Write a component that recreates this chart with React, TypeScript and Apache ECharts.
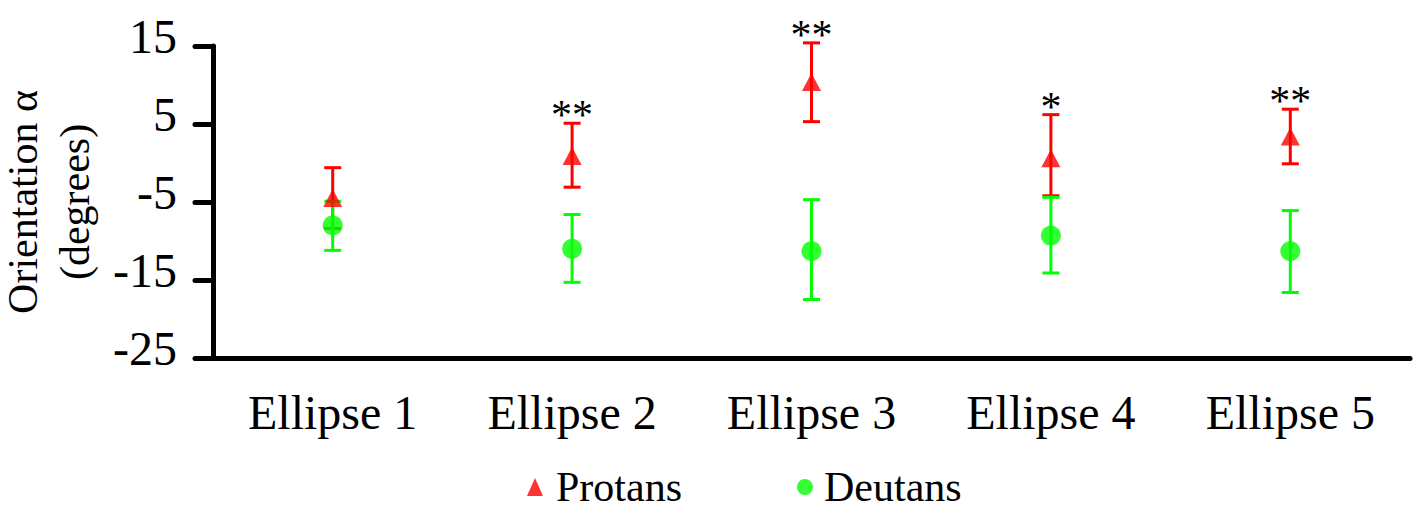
import React, { useEffect, useRef } from "react";
import * as echarts from "echarts";

const categories = ["Ellipse 1", "Ellipse 2", "Ellipse 3", "Ellipse 4", "Ellipse 5"];
const protansMean = [-4.5, 0.9, 10.4, 0.6, 3.4];
const protansLow = [-8.4, -3.1, 5.3, -4.2, -0.1];
const protansHigh = [-0.6, 5.1, 15.4, 6.2, 6.9];
const deutansMean = [-8.0, -11.0, -11.3, -9.3, -11.3];
const deutansLow = [-11.2, -15.3, -17.5, -14.1, -16.6];
const deutansHigh = [-4.9, -6.6, -4.7, -4.4, -6.1];
const significance = ["", "**", "**", "*", "**"];
const yTickLabels = [-25, -15, -5, 5, 15];
const yMin = -25;
const yMax = 15;
const yStep = 10;

const FONT = "Liberation Serif";
const RED = "#ff0000";
const GREEN = "#00ff00";

function errorRenderer(color: string, stars: string[] | null) {
  return (params: any, api: any) => {
    const idx = api.value(0);
    const lo = api.coord([idx, api.value(1)]);
    const hi = api.coord([idx, api.value(2)]);
    const x = lo[0];
    const half = 8.5;
    const style = { stroke: color, lineWidth: 3 };
    const children: any[] = [
      { type: "line", shape: { x1: x, y1: hi[1], x2: x, y2: lo[1] }, style },
      { type: "line", shape: { x1: x - half, y1: hi[1], x2: x + half, y2: hi[1] }, style },
      { type: "line", shape: { x1: x - half, y1: lo[1], x2: x + half, y2: lo[1] }, style },
    ];
    if (stars) {
      const s = stars[params.dataIndex];
      if (s) {
        children.push({
          type: "text",
          x,
          y: hi[1] - 8,
          style: {
            text: s,
            fontSize: 42,
            fontFamily: FONT,
            fill: "#000",
            align: "center",
            verticalAlign: "middle",
          },
        });
      }
    }
    return { type: "group", children };
  };
}

function tickLabelRenderer(params: any, api: any) {
  const v = api.value(1);
  const pt = api.coord([0, v]);
  const left = params.coordSys.x;
  return {
    type: "text",
    x: left - 36,
    y: pt[1] - 10,
    style: {
      text: String(v),
      fontSize: 48,
      fontFamily: FONT,
      fill: "#000",
      align: "right",
      verticalAlign: "middle",
    },
  };
}

export default function App() {
  const ref = useRef<HTMLDivElement>(null);
  useEffect(() => {
    if (!ref.current) return;
    const chart = echarts.init(ref.current, null, { renderer: "svg" });
    const option: any = {
      animation: false,
      backgroundColor: "#ffffff",
      textStyle: { fontFamily: FONT },
      grid: {
        left: 213,
        right: 11,
        top: 46,
        bottom: 156,
        containLabel: false,
        outerBoundsMode: "none",
      },
      legend: {
        left: 522,
        top: 461,
        itemWidth: 16,
        itemHeight: 18,
        itemGap: 115,
        formatter: (name: string) => (name === "Protans" ? `{p|${name}}` : `{d|${name}}`),
        textStyle: {
          fontFamily: FONT,
          fontSize: 42,
          color: "#000",
          lineHeight: 40,
          rich: {
            p: { fontFamily: FONT, fontSize: 42, lineHeight: 40, color: "#000", padding: [0, 0, 0, 8] },
            d: { fontFamily: FONT, fontSize: 42, lineHeight: 40, color: "#000", padding: [0, 0, 0, 6] },
          },
        },
        data: [
          { name: "Protans", icon: "triangle" },
          { name: "Deutans", icon: "circle" },
        ],
      },
      xAxis: {
        type: "category",
        data: categories,
        boundaryGap: true,
        axisLine: { onZero: false, lineStyle: { color: "#000", width: 5, cap: "round" } },
        axisTick: { length: 18, lineStyle: { color: "#000", width: 5, cap: "round" } },
        axisLabel: { fontFamily: FONT, fontSize: 48, color: "#000", margin: 30 },
        splitLine: { show: false },
      },
      yAxis: {
        type: "value",
        min: yMin,
        max: yMax,
        interval: yStep,
        name: "Orientation α\n(degrees)",
        nameLocation: "middle",
        nameGap: 112,
        nameTextStyle: { fontFamily: FONT, fontSize: 42, color: "#000", lineHeight: 52 },
        axisLine: { show: true, lineStyle: { color: "#000", width: 5, cap: "round" } },
        axisTick: { show: true, length: 18, lineStyle: { color: "#000", width: 5, cap: "round" } },
        axisLabel: { show: false },
        splitLine: { show: false },
      },
      series: [
        {
          type: "custom",
          name: "y tick labels",
          z: 5,
          clip: false,
          silent: true,
          renderItem: tickLabelRenderer,
          encode: { x: 0, y: 1 },
          data: yTickLabels.map((v) => [0, v]),
        },
        {
          type: "custom",
          name: "Protans SD",
          z: 1,
          renderItem: errorRenderer(RED, significance),
          encode: { x: 0, y: [1, 2] },
          data: protansLow.map((lo, i) => [i, lo, protansHigh[i]]),
        },
        {
          type: "custom",
          name: "Deutans SD",
          z: 2,
          renderItem: errorRenderer(GREEN, null),
          encode: { x: 0, y: [1, 2] },
          data: deutansLow.map((lo, i) => [i, lo, deutansHigh[i]]),
        },
        {
          type: "scatter",
          name: "Deutans",
          z: 3,
          symbol: "circle",
          symbolSize: 20,
          itemStyle: { color: GREEN },
          data: deutansMean.map((v, i) => [i, v]),
        },
        {
          type: "scatter",
          name: "Protans",
          z: 4,
          symbol: "triangle",
          symbolSize: [19, 18],
          itemStyle: { color: RED },
          data: protansMean.map((v, i) => [i, v]),
        },
      ],
    };
    chart.setOption(option);
    return () => chart.dispose();
  }, []);
  return (
    <div
      ref={ref}
      style={{ position: "fixed", left: 0, top: 0, width: 1421, height: 514, background: "#fff" }}
    />
  );
}
